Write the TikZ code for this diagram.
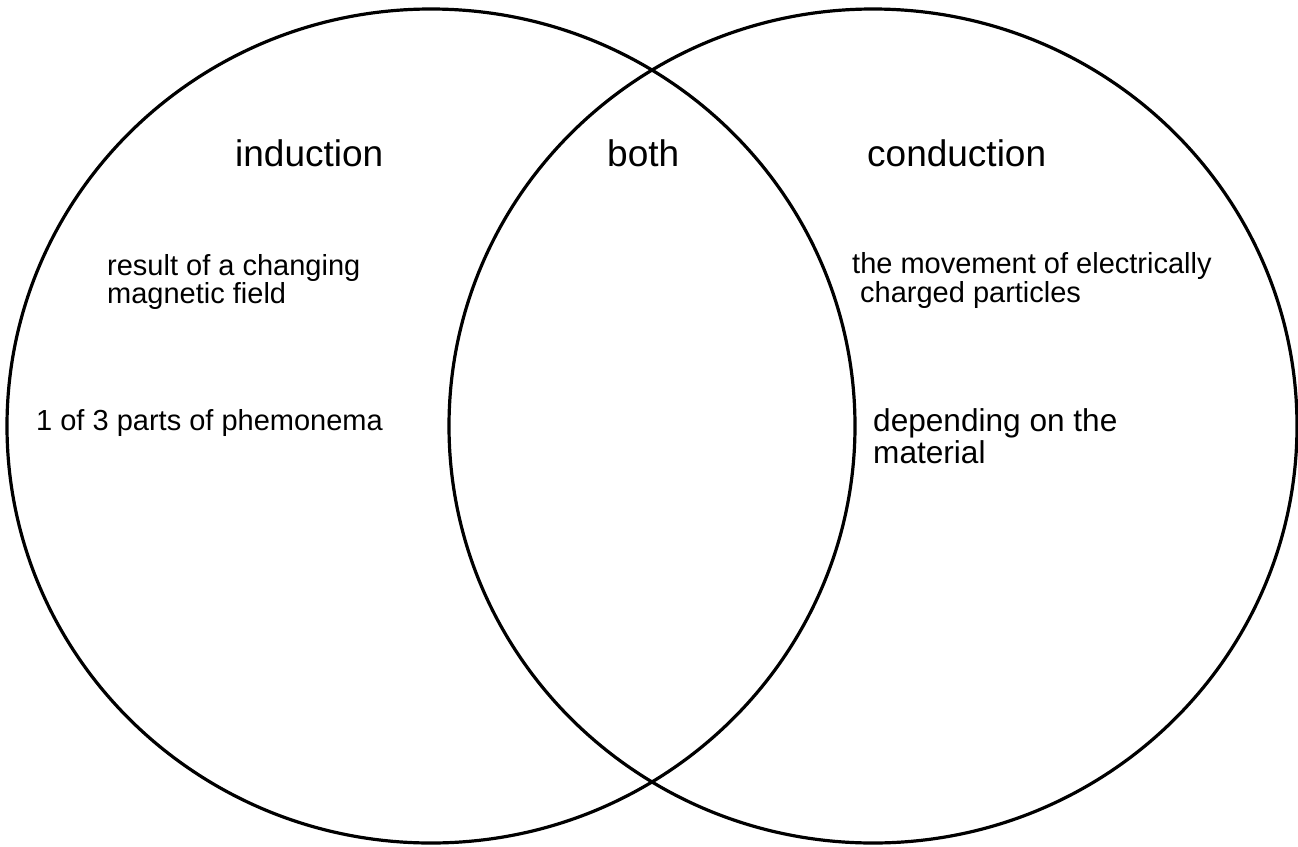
\documentclass[tikz,border=0pt]{standalone}
\usepackage{fontspec}
\setmainfont{Liberation Sans}
\begin{document}
\begin{tikzpicture}[x=1pt,y=-1pt,
  ring/.style={draw=black,line width=3.2pt},
  head/.style={inner sep=0pt,anchor=base west,font=\fontsize{37}{40}\selectfont},
  note/.style={inner sep=0pt,anchor=base west,align=left,font=\fontsize{29}{28.5}\selectfont},
  bignote/.style={inner sep=0pt,anchor=base west,align=left,font=\fontsize{31.6}{32}\selectfont}]
\useasboundingbox (0,0) rectangle (1298,846);
\draw[ring] (431,426) ellipse [x radius=424, y radius=417];
\draw[ring] (873,426) ellipse [x radius=424, y radius=417];
\node[head] (ind) at (235,166) {induction};
\node[head] (both) at (607,166) {both};
\node[head] (cond) at (867,166) {conduction};
\node[note] (res) at (107,303.5) {result of a changing\\magnetic field};
\node[note] (one) at (36,430) {1 of 3 parts of phemonema};
\node[note] (mov) at (852,302) {the movement of electrically\\\hspace*{8pt}charged particles};
\node[bignote] (dep) at (873,463) {depending on the\\material};
\end{tikzpicture}
\end{document}
